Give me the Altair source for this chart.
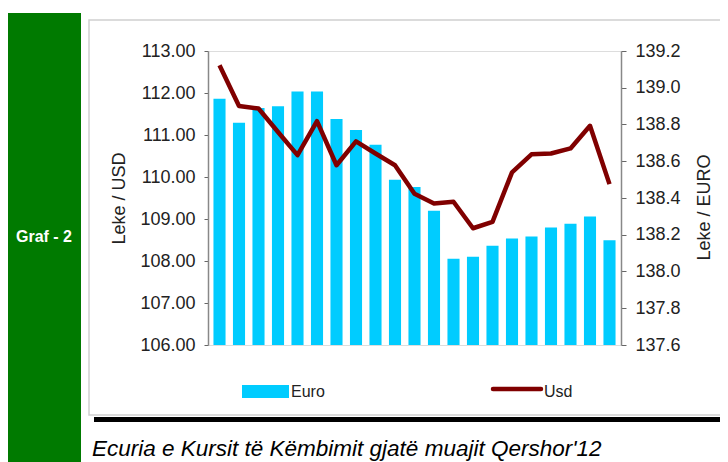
import altair as alt
import pandas as pd

dates = ["01.06", "04.06", "05.06", "06.06", "07.06", "08.06", "11.06", "12.06",
         "13.06", "14.06", "15.06", "18.06", "19.06", "20.06", "21.06", "22.06",
         "25.06", "26.06", "27.06", "28.06", "29.06"]
euro = [138.94, 138.81, 138.89, 138.90, 138.98, 138.98, 138.83, 138.77, 138.69,
        138.50, 138.46, 138.33, 138.07, 138.08, 138.14, 138.18, 138.19, 138.24,
        138.26, 138.30, 138.17]
usd = [112.66, 111.69, 111.63, 111.07, 110.52, 111.33, 110.28, 110.85, 110.56,
       110.28, 109.60, 109.37, 109.41, 108.78, 108.93, 110.11, 110.54, 110.56,
       110.68, 111.22, 109.83]
usd_ticks = [106, 107, 108, 109, 110, 111, 112, 113]
euro_ticks = [137.6, 137.8, 138.0, 138.2, 138.4, 138.6, 138.8, 139.0, 139.2]
legend_labels = ["Euro", "Usd"]
side_label = "Graf - 2"
caption = "Ecuria e Kursit të Këmbimit gjatë muajit Qershor'12"

df = pd.DataFrame({"Data": dates, "Euro": euro, "Usd": usd})
one = pd.DataFrame({"k": [0]})

FONT = "Liberation Sans"

xenc = alt.X("Data:N", sort=None, axis=None,
             scale=alt.Scale(paddingInner=0.38, paddingOuter=0.28))

bars = alt.Chart(df).mark_bar(color="#00CCFF").encode(
    x=xenc,
    y=alt.Y("Euro:Q",
            scale=alt.Scale(domain=[137.6, 139.2], zero=False, nice=False),
            axis=alt.Axis(orient="right", values=euro_ticks, format=".1f",
                          grid=False, title="Leke / EURO", titleAngle=270,
                          titleBaseline="top", titleY=156,
                          titleFontSize=18, titleFontWeight="normal",
                          titleFont=FONT, titleColor="#222", titlePadding=15,
                          labelFont=FONT, labelFontSize=18, labelColor="#222",
                          labelPadding=9, tickSize=5, tickColor="#666",
                          domainColor="#888", domainWidth=1.5)),
    y2=alt.datum(137.6),
)

line = alt.Chart(df).mark_line(color="#800000", strokeWidth=4.5,
                               strokeJoin="round").encode(
    x=xenc,
    y=alt.Y("Usd:Q",
            scale=alt.Scale(domain=[106, 113], zero=False, nice=False),
            axis=alt.Axis(orient="left", values=usd_ticks, format=".2f",
                          grid=False, title="Leke / USD",
                          titleFontSize=18, titleFontWeight="normal",
                          titleFont=FONT, titleColor="#222", titlePadding=11,
                          labelFont=FONT, labelFontSize=18, labelColor="#222",
                          labelPadding=9, tickSize=4, tickColor="#666",
                          domainColor="#888", domainWidth=1.5)),
)

# decorations (positions relative to the plot area origin)
green = alt.Chart(one).mark_rect(color="#007A00").encode(
    x=alt.value(-201), x2=alt.value(-127), y=alt.value(-38), y2=alt.value(420))
green_txt = alt.Chart(pd.DataFrame({"t": [side_label]})).mark_text(
    color="white", font=FONT, fontSize=16, fontWeight="bold",
    align="center", baseline="middle").encode(
    x=alt.value(-164), y=alt.value(186), text="t:N")
border = alt.Chart(one).mark_rect(fill="transparent", stroke="#d0d0d0",
                                  strokeWidth=1.5).encode(
    x=alt.value(-119), x2=alt.value(540), y=alt.value(-31), y2=alt.value(364))
black = alt.Chart(one).mark_rule(color="black", strokeWidth=5).encode(
    x=alt.value(-114), x2=alt.value(540), y=alt.value(368.5))
cap = alt.Chart(pd.DataFrame({"t": [caption]})).mark_text(
    color="black", font=FONT, fontSize=22.5, fontStyle="italic",
    align="left", baseline="alphabetic").encode(
    x=alt.value(-116), y=alt.value(405), text="t:N")

leg_sw = alt.Chart(one).mark_rect(color="#00CCFF").encode(
    x=alt.value(34), x2=alt.value(81), y=alt.value(334), y2=alt.value(347))
leg_ln = alt.Chart(one).mark_rule(color="#800000", strokeWidth=4.5,
                                  strokeCap="round").encode(
    x=alt.value(285), x2=alt.value(333), y=alt.value(338))
leg_txt = alt.Chart(pd.DataFrame({"t": legend_labels, "px": [83, 336]})).mark_text(
    color="#222", font=FONT, fontSize=16, align="left", baseline="middle").encode(
    x=alt.X("px:Q", scale=None), y=alt.value(341), text="t:N")

chart = alt.layer(
    green, border, black, green_txt, cap, leg_sw, leg_ln, leg_txt, bars, line
).resolve_scale(y="independent").properties(
    width=413, height=294,
    autosize=alt.AutoSizeParams(type="none"),
    padding={"left": 200, "top": 43, "right": 99, "bottom": 117},
).configure_view(stroke=None).configure(background="white")

chart.save("out.html", embed_options={"renderer": "svg", "actions": False})
